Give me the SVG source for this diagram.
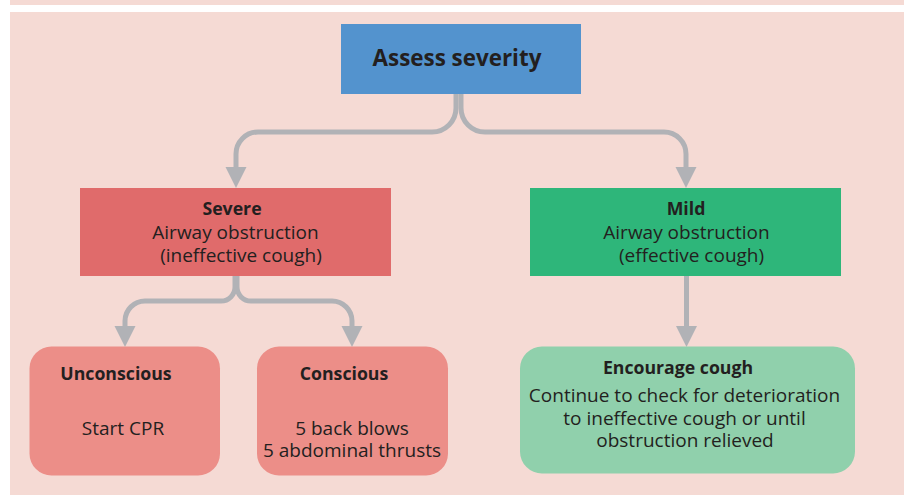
<svg xmlns="http://www.w3.org/2000/svg" width="904" height="495" viewBox="0 0 904 495">
<style>
.t{font-family:"Open Sans","Noto Sans","Liberation Sans",sans-serif;fill:#231F20;text-anchor:middle}
.b{font-weight:bold;font-size:17.7px}
.r{font-size:19px}
.c{fill:none;stroke:#B1B2B6;stroke-width:5}
.h{fill:#B1B2B6}
</style>
<rect x="0" y="0" width="904" height="495" fill="#FFFFFF"/>
<rect x="10" y="0" width="894" height="5" fill="#F5DAD4"/>
<rect x="10" y="12" width="894" height="483" fill="#F5DAD4"/>
<g id="connectors">
<path class="c" d="M456 93 V108 A24 24 0 0 1 432 132 H258 A22 22 0 0 0 236 154 V170"/>
<path class="c" d="M461 93 V108 A24 24 0 0 0 485 132 H664 A22 22 0 0 1 686 154 V170"/>
<polygon class="h" points="225.5,167 246.5,167 236,188"/>
<polygon class="h" points="675.5,167 696.5,167 686,188"/>
<path class="c" d="M235 276 V287 A14 14 0 0 1 221 301 H145 A20 20 0 0 0 125 321 V328"/>
<path class="c" d="M237 276 V287 A14 14 0 0 0 251 301 H332 A20 20 0 0 1 352 321 V328"/>
<polygon class="h" points="114.5,326 135.5,326 125,347"/>
<polygon class="h" points="341.5,326 362.5,326 352,347"/>
<path class="c" d="M686.5 276 V328"/>
<polygon class="h" points="676,326 697,326 686.5,347"/>
</g>
<g id="assess">
<rect x="341" y="24" width="240" height="70" fill="#5393CE"/>
<text class="t" x="457" y="66" style="font-weight:bold;font-size:22.4px">Assess severity</text>
</g>
<g id="severe">
<rect x="80" y="188" width="311" height="88" fill="#E06B6B"/>
<text class="t b" x="232" y="215">Severe</text>
<text class="t r" x="235.5" y="239">Airway obstruction</text>
<text class="t r" x="241" y="262">(ineffective cough)</text>
</g>
<g id="mild">
<rect x="530" y="188" width="311" height="88" fill="#2EB67A"/>
<text class="t b" x="686" y="215">Mild</text>
<text class="t r" x="686.5" y="239">Airway obstruction</text>
<text class="t r" x="691.5" y="262">(effective cough)</text>
</g>
<g id="unconscious">
<rect x="29.5" y="346.5" width="190.5" height="129" rx="22" fill="#EC8E88"/>
<text class="t b" x="116" y="380">Unconscious</text>
<text class="t r" x="123" y="435">Start CPR</text>
</g>
<g id="conscious">
<rect x="257" y="346.5" width="191" height="129" rx="22" fill="#EC8E88"/>
<text class="t b" x="344" y="380">Conscious</text>
<text class="t r" x="352" y="435">5 back blows</text>
<text class="t r" x="352" y="457">5 abdominal thrusts</text>
</g>
<g id="encourage">
<rect x="520" y="346.5" width="335" height="127" rx="22" fill="#90D0AC"/>
<text class="t b" x="678" y="374">Encourage cough</text>
<text class="t r" x="684.5" y="402">Continue to check for deterioration</text>
<text class="t r" x="684.5" y="425">to ineffective cough or until</text>
<text class="t r" x="685" y="447">obstruction relieved</text>
</g>
</svg>
